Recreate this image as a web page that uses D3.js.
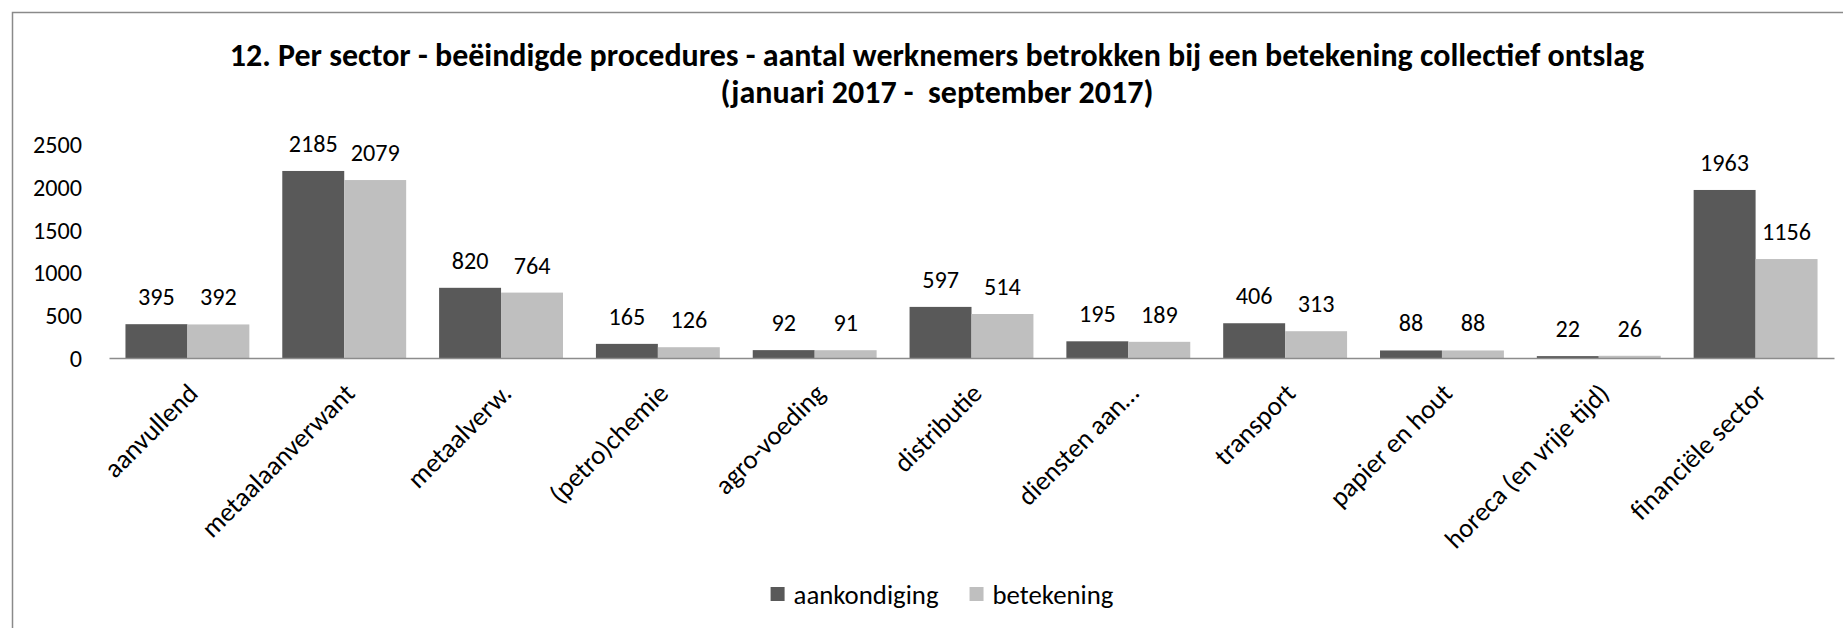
<!DOCTYPE html>
<html><head><meta charset="utf-8">
<script src="https://cdn.jsdelivr.net/npm/d3@7"></script>
<style>html,body{margin:0;padding:0;background:#fff;overflow:hidden;} svg{display:block;}</style>
</head><body>
<svg id="chart" width="1843" height="628"></svg>
<script>
// ---- data ----
const categories = ["aanvullend", "metaalaanverwant", "metaalverw.", "(petro)chemie", "agro-voeding",
  "distributie", "diensten aan…", "transport", "papier en hout", "horeca (en vrije tijd)", "financiële sector"];
const seriesNames = ["aankondiging", "betekening"];
const aankondiging = [395, 2185, 820, 165, 92, 597, 195, 406, 88, 22, 1963];
const betekening = [392, 2079, 764, 126, 91, 514, 189, 313, 88, 26, 1156];
const yTicks = [0, 500, 1000, 1500, 2000, 2500];
const titleLines = ["12. Per sector - beëindigde procedures - aantal werknemers betrokken bij een betekening collectief ontslag",
  "(januari 2017 -  september 2017)"];

// ---- style / layout ----
const colors = {aankondiging: "#595959", betekening: "#bfbfbf"};
const FONT = "Carlito, Calibri, Lato, 'Open Sans', sans-serif";
const W = 1843, H = 628;
const plot = {left: 109, right: 1834, top: 144, bottom: 358};
const centerX = 937;

const svg = d3.select("#chart");
svg.append("rect").attr("width", W).attr("height", H).attr("fill", "#fff");
// chart border (cropped at right/bottom)
svg.append("rect").attr("x", 12.5).attr("y", 12.5).attr("width", W + 50).attr("height", H + 50)
  .attr("fill", "none").attr("stroke", "#8a8a8a").attr("stroke-width", 1.5);

function fit(sample, weight, target) {
  const t = svg.append("text").attr("font-family", FONT).attr("font-weight", weight)
    .attr("font-size", 100).style("white-space", "pre").text(sample);
  const w = t.node().getComputedTextLength();
  t.remove();
  return 100 * target / w;
}
const titleSize = fit(titleLines[0], "bold", 1415);
const smallSize = fit("2500", "normal", 49);
const labelSize = fit("aankondiging", "normal", 145);

// ---- title ----
const titleY = [55, 92];
titleLines.forEach((line, i) => {
  svg.append("text").attr("x", centerX).attr("y", titleY[i])
    .attr("text-anchor", "middle").attr("dominant-baseline", "central")
    .attr("font-family", FONT).attr("font-weight", "bold").attr("font-size", titleSize)
    .style("white-space", "pre").attr("fill", "#000").text(line);
});

// ---- scales ----
const x0 = d3.scaleBand().domain(categories).range([plot.left, plot.right])
  .paddingInner(0.21).paddingOuter(0.105);
const x1 = d3.scaleBand().domain(seriesNames).range([0, x0.bandwidth()]);
const y = d3.scaleLinear().domain([0, 2500]).range([plot.bottom, plot.top]);

const rows = categories.map((c, i) => ({cat: c, values: [
  {name: "aankondiging", v: aankondiging[i]},
  {name: "betekening", v: betekening[i]}]}));

// ---- y axis ----
const yAxis = svg.append("g").attr("transform", `translate(${plot.left},0)`)
  .call(d3.axisLeft(y).tickValues(yTicks).tickSize(0).tickPadding(27).tickFormat(d3.format("d")));
yAxis.select(".domain").remove();
yAxis.selectAll("text").attr("font-family", FONT).attr("font-size", smallSize)
  .attr("fill", "#000").attr("dy", null).attr("dominant-baseline", "central");

// ---- bars ----
const groups = svg.append("g").selectAll("g").data(rows).join("g")
  .attr("transform", d => `translate(${x0(d.cat)},0)`);
groups.selectAll("rect").data(d => d.values).join("rect")
  .attr("x", d => x1(d.name)).attr("width", x1.bandwidth())
  .attr("y", d => y(d.v)).attr("height", d => y(0) - y(d.v))
  .attr("fill", d => colors[d.name]);
groups.selectAll("text").data(d => d.values).join("text")
  .attr("x", d => x1(d.name) + x1.bandwidth() / 2).attr("y", d => y(d.v) - 19)
  .attr("text-anchor", "middle").attr("font-family", FONT).attr("font-size", smallSize)
  .attr("fill", "#000").text(d => d.v);

// ---- x axis ----
const xAxis = svg.append("g").attr("transform", `translate(0,${plot.bottom})`)
  .call(d3.axisBottom(x0).tickSize(0).tickSizeOuter(0));
xAxis.select(".domain").attr("stroke", "#8c8c8c").attr("stroke-width", 1.6);
xAxis.selectAll("text").attr("y", 0).attr("dy", null)
  .attr("text-anchor", "end").attr("font-family", FONT).attr("font-size", labelSize)
  .attr("fill", "#000").attr("transform", "translate(12,37) rotate(-45)");

// ---- legend ----
const sq = 14, gapText = 9, gapEntry = 31, legendY = 594;
const legend = svg.append("g");
let lx = 0;
seriesNames.forEach(name => {
  const g = legend.append("g").attr("transform", `translate(${lx},0)`);
  g.append("rect").attr("x", 0).attr("y", legendY - sq / 2).attr("width", sq).attr("height", sq)
    .attr("fill", colors[name]);
  const t = g.append("text").attr("x", sq + gapText).attr("y", legendY)
    .attr("dominant-baseline", "central").attr("font-family", FONT).attr("font-size", labelSize)
    .attr("fill", "#000").text(name);
  lx += sq + gapText + t.node().getComputedTextLength() + gapEntry;
});
const legendW = lx - gapEntry;
legend.attr("transform", `translate(${centerX + 5 - legendW / 2},0)`);
</script>
</body></html>
